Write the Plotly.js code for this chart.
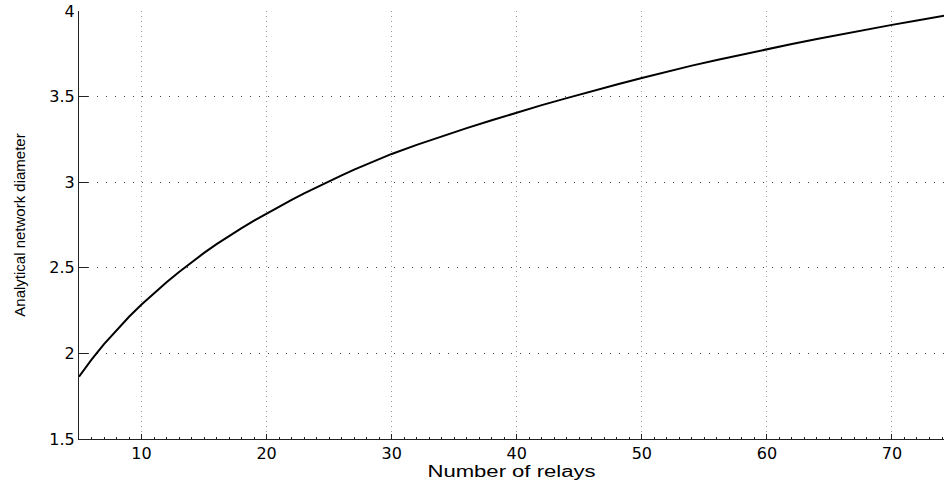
<!DOCTYPE html>
<html>
<head>
<meta charset="utf-8">
<script src="https://cdn.plot.ly/plotly-3.0.1.min.js"></script>
<style>
  html, body { margin: 0; padding: 0; background: #fff; }
  #chart { width: 944px; height: 480px; }
</style>
</head>
<body>
<div id="chart"></div>
<script>
// Number of relays (x) and analytical network diameter (y)
const relays = [5, 6, 7, 8, 9, 10, 11, 12, 13, 14, 15, 16, 17, 18, 19, 20,
                21, 22, 23, 24, 25, 26, 27, 28, 29, 30, 32, 34, 36, 38, 40,
                42, 44, 46, 48, 50, 52, 54, 56, 58, 60, 62, 64, 66, 68, 70, 72, 74, 75];
const diameter = [1.864, 1.964, 2.054, 2.137, 2.214, 2.286, 2.353, 2.416, 2.476, 2.533, 2.587, 2.638, 2.686, 2.732, 2.776, 2.818,
                  2.858, 2.897, 2.935, 2.971, 3.006, 3.040, 3.073, 3.105, 3.136, 3.165, 3.218, 3.268, 3.316, 3.362, 3.407,
                  3.450, 3.491, 3.532, 3.571, 3.609, 3.646, 3.681, 3.714, 3.746, 3.777, 3.807, 3.836, 3.865, 3.892, 3.919, 3.945, 3.970, 3.983];

const xTickVals = [10, 20, 30, 40, 50, 60, 70];
const yTickVals = [1.5, 2, 2.5, 3, 3.5, 4];
const yTickText = ['1.5', '2', '2.5', '3', '3.5', '4'];
const xTitle = 'Number of relays';
const yTitle = 'Analytical network diameter';

const tickFont = { family: 'DejaVu Sans, Liberation Sans, Arial, sans-serif', size: 16, color: '#000' };

const trace = {
  x: relays,
  y: diameter,
  type: 'scatter',
  mode: 'lines',
  line: { color: '#000', width: 2, shape: 'linear' },
  hoverinfo: 'x+y'
};

const layout = {
  width: 944,
  height: 480,
  margin: { l: 79, r: 0, t: 11, b: 41 },
  paper_bgcolor: '#fff',
  plot_bgcolor: '#fff',
  showlegend: false,
  xaxis: {
    range: [5, 74.16],
    tickvals: xTickVals,
    ticktext: xTickVals.map(String),
    ticks: 'inside',
    ticklen: 5,
    tickwidth: 1,
    tickcolor: '#222',
    minor: { dtick: 1, tick0: 0, ticks: 'inside', ticklen: 2, tickcolor: '#222', showgrid: false },
    showline: true,
    linecolor: '#222',
    linewidth: 1,
    mirror: false,
    showgrid: true,
    gridcolor: '#999',
    griddash: '1px,4px',
    gridwidth: 1,
    zeroline: false,
    tickfont: tickFont,
    title: { text: xTitle, font: { family: 'Liberation Sans, Arial, sans-serif', size: 16, color: '#000' }, standoff: 4 },
    automargin: false
  },
  yaxis: {
    range: [1.5, 4],
    tickvals: yTickVals,
    ticktext: yTickText,
    ticks: 'inside',
    ticklen: 9,
    tickwidth: 1,
    tickcolor: '#222',
    showline: true,
    linecolor: '#222',
    linewidth: 1,
    mirror: false,
    showgrid: true,
    gridcolor: '#444',
    griddash: '1px,8px',
    gridwidth: 1,
    zeroline: false,
    tickfont: tickFont,
    title: { text: yTitle, font: { family: 'Liberation Sans, Arial, sans-serif', size: 15, color: '#000' }, standoff: 20 },
    automargin: false
  }
};

Plotly.newPlot('chart', [trace], layout, { displayModeBar: false }).then(function (gd) {
  // The original figure was stretched horizontally; widen the x-axis title to match.
  const t = gd.querySelector('.xtitle');
  if (t) {
    const bb = t.getBBox();
    const cx = bb.x + bb.width / 2;
    t.setAttribute('transform', 'translate(' + cx + ',0) scale(1.38,1) translate(' + (-cx) + ',0)');
  }
});
</script>
</body>
</html>
